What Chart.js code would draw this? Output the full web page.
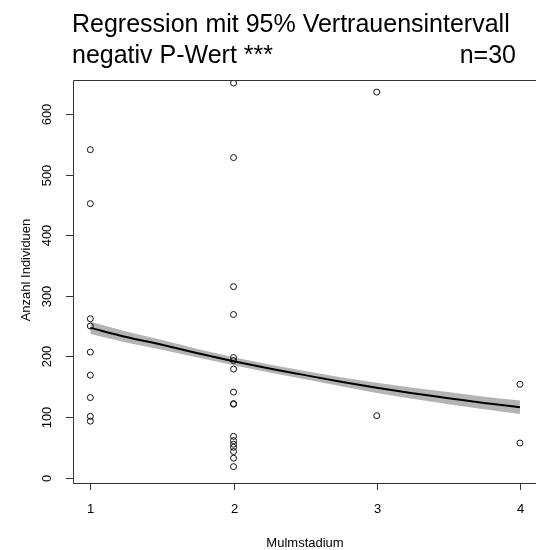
<!DOCTYPE html>
<html>
<head>
<meta charset="utf-8">
<script src="https://cdn.jsdelivr.net/npm/chart.js@4.4.1/dist/chart.umd.min.js"></script>
<style>
  html, body { margin: 0; padding: 0; background: #fff; overflow: hidden; }
  #wrap { width: 536px; height: 550px; position: relative; }
</style>
</head>
<body>
<div id="wrap"><canvas id="c" width="536" height="550"></canvas></div>
<script>
// Observations: decay stage (Mulmstadium) and number of individuals
const stadium = [
  1, 1, 1, 1, 1, 1, 1, 1, 1,
  2, 2, 2, 2, 2, 2, 2, 2, 2, 2, 2, 2, 2, 2, 2, 2, 2,
  3, 3,
  4, 4
];
const individuals = [
  541, 452, 262, 250, 207, 169, 132, 101, 93,
  651, 528, 315, 269, 198, 193, 179, 141, 122, 121, 68, 61, 55, 50, 43, 32, 18,
  636, 102,
  154, 57
];

// Fitted regression curve with its 95% confidence band
const fitX    = [1, 1.25, 1.5, 1.75, 2, 2.25, 2.5, 2.75, 3, 3.25, 3.5, 3.75, 4];
const fitY    = [247, 232, 219, 205, 192, 180, 169, 158, 148, 139, 131, 123, 116];
const fitLow  = [237, 223, 211, 198, 185.5, 173.5, 162, 150.5, 139.5, 130, 121, 112.5, 105];
const fitHigh = [257, 241, 227, 212, 198.5, 186.5, 176, 165.5, 156.5, 148, 141, 133.5, 127];

// Axis ticks
const xTicks = [1, 2, 3, 4];
const yTicks = [0, 100, 200, 300, 400, 500, 600];

const titleLine1 = 'Regression mit 95% Vertrauensintervall';
const titleLine2 = 'negativ P-Wert ***';
const sampleSize = 'n=30';
const xTitle = 'Mulmstadium';
const yTitle = 'Anzahl Individuen';

const pts = (xs, ys) => xs.map((v, i) => ({ x: v, y: ys[i] }));

const FONT = '"Liberation Sans", Arial, sans-serif';

// R-style frame, ticks and text around the plotting region
const frame = {
  id: 'frame',
  afterDraw(chart) {
    const { ctx, chartArea: a, scales: { x, y } } = chart;
    ctx.save();
    ctx.strokeStyle = '#333';
    ctx.lineWidth = 1;
    ctx.beginPath();
    ctx.moveTo(a.right + 2, a.top + 0.5);
    ctx.lineTo(a.left + 0.5, a.top + 0.5);
    ctx.lineTo(a.left + 0.5, a.bottom + 0.5);
    ctx.lineTo(a.right + 2, a.bottom + 0.5);
    ctx.stroke();

    // y axis ticks and rotated labels
    ctx.fillStyle = '#000';
    ctx.font = '13px ' + FONT;
    yTicks.forEach(v => {
      const py = Math.round(y.getPixelForValue(v)) + 0.5;
      ctx.beginPath();
      ctx.moveTo(a.left - 7, py);
      ctx.lineTo(a.left, py);
      ctx.stroke();
      ctx.save();
      ctx.translate(47, py);
      ctx.rotate(-Math.PI / 2);
      ctx.textAlign = 'center';
      ctx.textBaseline = 'middle';
      ctx.fillText(String(v), 0, 0);
      ctx.restore();
    });

    // x axis ticks and labels
    xTicks.forEach(v => {
      const px = Math.round(x.getPixelForValue(v)) + 0.5;
      ctx.beginPath();
      ctx.moveTo(px, a.bottom);
      ctx.lineTo(px, a.bottom + 7);
      ctx.stroke();
      ctx.textAlign = 'center';
      ctx.textBaseline = 'middle';
      ctx.fillText(String(v), px, 509);
    });

    // axis titles
    ctx.font = '13px ' + FONT;
    ctx.textAlign = 'center';
    ctx.textBaseline = 'middle';
    ctx.fillText(xTitle, 305, 543);
    ctx.save();
    ctx.translate(26, 270);
    ctx.rotate(-Math.PI / 2);
    ctx.fillText(yTitle, 0, 0);
    ctx.restore();

    // main title
    ctx.font = '25px ' + FONT;
    ctx.textBaseline = 'alphabetic';
    ctx.textAlign = 'left';
    ctx.fillText(titleLine1, 72, 32);
    ctx.fillText(titleLine2, 72, 63);
    ctx.textAlign = 'right';
    ctx.fillText(sampleSize, 516, 63);
    ctx.restore();
  }
};

new Chart(document.getElementById('c'), {
  type: 'scatter',
  data: {
    datasets: [
      {
        label: 'obere Grenze',
        data: pts(fitX, fitHigh),
        showLine: true,
        borderWidth: 0,
        borderColor: 'rgba(0,0,0,0)',
        backgroundColor: '#b4b4b4',
        pointRadius: 0,
        fill: '+1',
        order: 3
      },
      {
        label: 'untere Grenze',
        data: pts(fitX, fitLow),
        showLine: true,
        borderWidth: 0,
        borderColor: 'rgba(0,0,0,0)',
        pointRadius: 0,
        fill: false,
        order: 2
      },
      {
        label: 'Regression',
        data: pts(fitX, fitY),
        showLine: true,
        borderColor: '#000',
        borderWidth: 2,
        pointRadius: 0,
        fill: false,
        cubicInterpolationMode: 'monotone',
        order: 0
      },
      {
        label: 'Beobachtungen',
        data: pts(stadium, individuals),
        showLine: false,
        pointStyle: 'circle',
        pointRadius: 3,
        pointBorderWidth: 1,
        pointBorderColor: '#111',
        pointBackgroundColor: 'rgba(255,255,255,0)',
        order: 1
      }
    ]
  },
  options: {
    responsive: false,
    animation: false,
    devicePixelRatio: 1,
    layout: { autoPadding: false, padding: { left: 73, right: 0, top: 80, bottom: 67 } },
    plugins: {
      legend: { display: false },
      tooltip: { enabled: false },
      title: { display: false }
    },
    scales: {
      x: { type: 'linear', min: 0.879, max: 4.112, display: false },
      y: { type: 'linear', min: -9, max: 656, display: false }
    }
  },
  plugins: [frame]
});
</script>
</body>
</html>
